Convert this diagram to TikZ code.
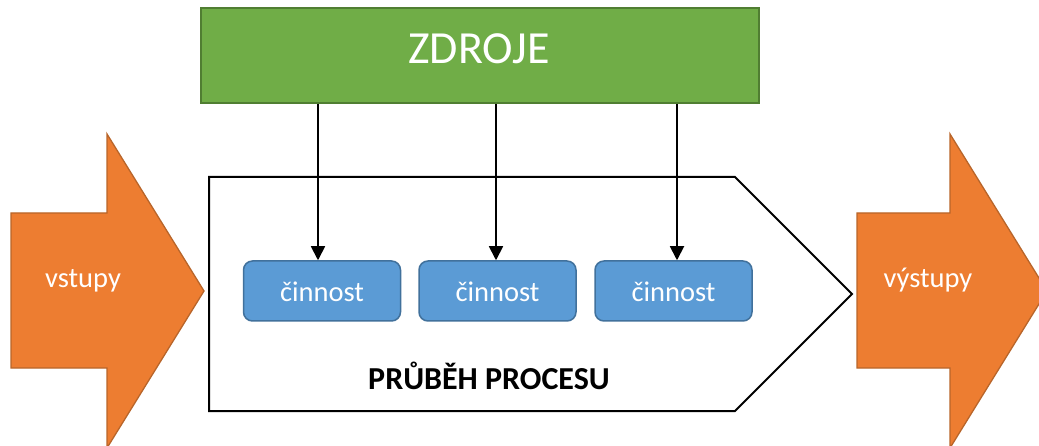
\documentclass[tikz,border=0pt]{standalone}
\usepackage{fontspec}
\setmainfont{Carlito}
\usetikzlibrary{arrows.meta}

\definecolor{orangefill}{HTML}{ED7D31}
\definecolor{orangeline}{HTML}{B8652A}
\definecolor{greenfill}{HTML}{70AD47}
\definecolor{greenline}{HTML}{507E32}
\definecolor{bluefill}{HTML}{5B9BD5}
\definecolor{blueline}{HTML}{41719C}

\tikzset{
  bigarrow/.style={fill=orangefill, draw=orangeline, line width=1.3pt, line join=miter},
  arrowtext/.style={text=white, font=\fontsize{28.5}{32}\selectfont, anchor=base, inner sep=0pt},
  resource/.style={fill=greenfill, draw=greenline, line width=2pt, minimum width=558pt,
    minimum height=95pt, inner sep=0pt},
  activity/.style={fill=bluefill, draw=blueline, line width=1.5pt, rounded corners=9pt,
    minimum width=157pt, minimum height=60pt, inner sep=0pt},
  feed/.style={line width=1.8pt, -{Triangle[length=14pt,width=14pt]}},
}

\begin{document}
\begin{tikzpicture}[x=1pt, y=-1pt]
\useasboundingbox (0,0) rectangle (1039,446);
\clip (0,0) rectangle (1039,446);

% input arrow
\draw[bigarrow] (11,213) -- (107,213) -- (107,134) -- (204,291) -- (107,448)
  -- (107,368) -- (11,368) -- cycle;
\node[arrowtext] (vstupy) at (83,288) {vstupy};

% output arrow
\draw[bigarrow] (857,213) -- (950,213) -- (950,134) -- (1047,291) -- (950,448)
  -- (950,368) -- (857,368) -- cycle;
\node[arrowtext] (vystupy) at (928,288) {výstupy};

% process outline
\draw[line width=2pt, fill=white, line join=miter]
  (209,177) -- (735,177) -- (852,294) -- (735,411) -- (209,411) -- cycle;
\node[anchor=base, inner sep=0pt, font=\fontsize{32}{36}\selectfont\bfseries]
  (proces) at (489,389) {PRŮBĚH PROCESU};

% resources
\node[resource] (zdroje) at (480,55.5) {};
\node[text=white, anchor=base, inner sep=0pt, font=\fontsize{46}{50}\selectfont]
  (zdrojetext) at (479,64) {ZDROJE};

% activities
\node[activity] (c1) at (322,291) {};
\node[activity] (c2) at (497.5,291) {};
\node[activity] (c3) at (673.5,291) {};
\foreach \n in {c1,c2,c3}{
  \node[text=white, anchor=base, inner sep=0pt, font=\fontsize{28.5}{32}\selectfont]
    at ([yshift=-11pt]\n.center) {činnost};
}

% resource feeds
\draw[feed] ([xshift=-4pt]c1.north |- zdroje.south) -- ([xshift=-4pt]c1.north);
\draw[feed] ([xshift=-1.5pt]c2.north |- zdroje.south) -- ([xshift=-1.5pt]c2.north);
\draw[feed] ([xshift=3.5pt]c3.north |- zdroje.south) -- ([xshift=3.5pt]c3.north);
\end{tikzpicture}
\end{document}
